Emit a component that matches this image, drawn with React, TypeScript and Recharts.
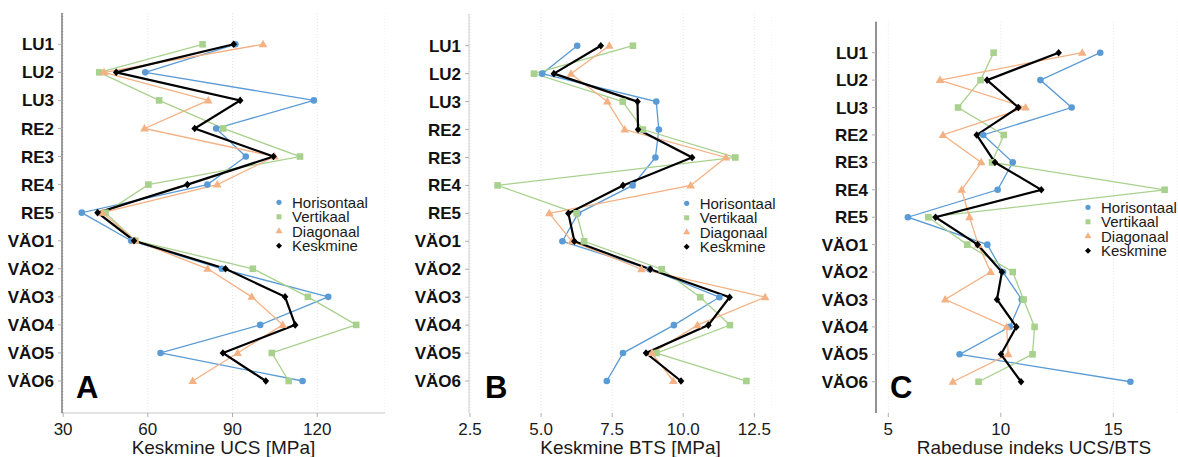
import React from 'react';
import { LineChart, Line, XAxis, YAxis, CartesianGrid } from 'recharts';

const categories = ['LU1', 'LU2', 'LU3', 'RE2', 'RE3', 'RE4', 'RE5', 'VÄO1', 'VÄO2', 'VÄO3', 'VÄO4', 'VÄO5', 'VÄO6'];
const seriesNames = ['Horisontaal', 'Vertikaal', 'Diagonaal', 'Keskmine'];

// A: Keskmine UCS [MPa]
const ucsHorisontaal = [91, 59.1, 118.8, 84.2, 94.7, 81.1, 36.6, 54.1, 86.2, 123.9, 99.8, 64.5, 114.8];
const ucsVertikaal = [79.4, 42.8, 64.0, 86.7, 113.9, 60.2, 45, 55.6, 97.2, 116.7, 133.8, 103.9, 109.9];
const ucsDiagonaal = [100.8, 44.5, 81.4, 58.8, 104.9, 84.6, 43.9, 55.6, 81.2, 96.8, 107.8, 91.8, 75.9];
const ucsKeskmine = [90.4, 48.8, 92.7, 76.6, 104.5, 74.0, 42.2, 55.1, 87.5, 108.6, 112.2, 86.6, 101.8];

// B: Keskmine BTS [MPa]
const btsHorisontaal = [6.27, 5.04, 9.05, 9.14, 9.02, 8.22, 6.3, 5.75, 8.82, 11.27, 9.67, 7.88, 7.31];
const btsVertikaal = [8.23, 4.75, 7.87, 8.58, 11.83, 3.47, 6.25, 6.51, 9.24, 10.6, 11.64, 9.06, 12.22];
const btsDiagonaal = [7.4, 6.05, 7.33, 7.94, 11.5, 10.26, 5.29, 6.08, 8.53, 12.88, 10.5, 8.9, 9.65];
const btsKeskmine = [7.1, 5.45, 8.39, 8.41, 10.31, 7.88, 5.96, 6.17, 8.84, 11.63, 10.88, 8.69, 9.92];

// C: Rabeduse indeks UCS/BTS
const riHorisontaal = [14.42, 11.76, 13.15, 9.22, 10.53, 9.86, 5.87, 9.4, 10.1, 10.93, 10.4, 8.17, 15.76];
const riVertikaal = [9.68, 9.1, 8.1, 10.13, 9.61, 17.28, 6.78, 8.51, 10.53, 11.01, 11.5, 11.41, 9.01];
const riDiagonaal = [13.62, 7.3, 11.1, 7.43, 9.13, 8.26, 8.61, 9.0, 9.55, 7.53, 10.26, 10.33, 7.87];
const riKeskmine = [12.57, 9.39, 10.78, 8.93, 9.74, 11.8, 7.1, 8.97, 10.05, 9.83, 10.69, 10.01, 10.9];

const ucsTicks = [30, 60, 90, 120];
const btsTicks = [2.5, 5, 7.5, 10, 12.5];
const riTicks = [5, 10, 15];

const BLUE = '#5b9bd5';
const GREEN = '#a9d18e';
const ORANGE = '#f4b183';
const BLACK = '#000000';
const FONT = '"Liberation Sans", Arial, sans-serif';

const catIdx = categories.map((_, i) => i);

const buildRows = (h: number[], v: number[], d: number[], k: number[]) =>
  categories.map((name, i) => ({ idx: i, name, h: h[i], v: v[i], d: d[i], k: k[i] }));

const circle = (p: any) =>
  p.cx == null ? null : <circle key={`c${p.index}`} cx={p.cx} cy={p.cy} r={3.3} fill={BLUE} />;
const square = (p: any) =>
  p.cx == null ? null : <rect key={`s${p.index}`} x={p.cx - 3.3} y={p.cy - 3.3} width={6.6} height={6.6} fill={GREEN} />;
const triangle = (p: any) =>
  p.cx == null ? null : (
    <path key={`t${p.index}`} d={`M${p.cx},${p.cy - 4.5}L${p.cx + 4.3},${p.cy + 3}L${p.cx - 4.3},${p.cy + 3}Z`} fill={ORANGE} />
  );
const diamond = (p: any) =>
  p.cx == null ? null : (
    <path key={`k${p.index}`} d={`M${p.cx},${p.cy - 3.8}L${p.cx + 3.3},${p.cy}L${p.cx},${p.cy + 3.8}L${p.cx - 3.3},${p.cy}Z`} fill={BLACK} />
  );

// legend drawn in the overlay, x = marker centre, y = first row centre
const LegendBox = ({ x, y }: { x: number; y: number }) => (
  <g transform={`translate(${x - 4},${y - 7})`}>
    <circle cx={4} cy={7} r={2.6} fill={BLUE} />
    <rect x={1.5} y={19} width={5} height={5} fill={GREEN} />
    <path d="M4,32L7.5,38L0.5,38Z" fill={ORANGE} />
    <path d="M4,47.5L7,50.5L4,53.5L1,50.5Z" fill={BLACK} />
    {seriesNames.map((s, i) => (
      <text key={s} x={17} y={7 + i * 14.5} dy="0.36em" fontSize={15} fontFamily={FONT} fill="#1a1a1a">
        {s}
      </text>
    ))}
  </g>
);

type PanelProps = {
  left: number;
  width: number;
  axisWidth: number;
  top: number;
  yDomain: [number, number];
  xDomain: [number, number];
  xTicks: number[];
  xFormat: (v: number) => string;
  title: string;
  titleDx: number;
  xLine: boolean;
  yColor: string;
  h: number[];
  v: number[];
  d: number[];
  k: number[];
};

const Panel = (p: PanelProps) => (
  <div style={{ position: 'absolute', left: p.left, top: 0 }}>
    <LineChart
      width={p.width}
      height={457}
      layout="vertical"
      data={buildRows(p.h, p.v, p.d, p.k)}
      margin={{ top: p.top, right: 0, bottom: 0, left: 0 }}
    >
      <CartesianGrid horizontal={false} stroke="#e4e4e4" strokeDasharray="1 2" />
      <XAxis
        type="number"
        domain={p.xDomain}
        allowDataOverflow
        ticks={p.xTicks}
        tickFormatter={p.xFormat}
        height={44}
        axisLine={p.xLine ? { stroke: '#c8c8c8' } : false}
        tickLine={{ stroke: '#b0b0b0' }}
        tickSize={4}
        tickMargin={6}
        tick={{ fontSize: 17, fill: '#1a1a1a', fontFamily: FONT }}
        label={{ value: p.title, position: 'insideBottom', offset: 3, dx: p.titleDx, fontSize: 19, fill: '#1a1a1a', fontFamily: FONT }}
      />
      <YAxis
        type="number"
        dataKey="idx"
        domain={p.yDomain}
        allowDataOverflow
        ticks={catIdx}
        interval={0}
        tickFormatter={(i: number) => categories[i] ?? ''}
        width={p.axisWidth}
        axisLine={{ stroke: p.yColor }}
        tickLine={{ stroke: '#b0b0b0' }}
        tickSize={4}
        tickMargin={4}
        tick={{ fontSize: 17, fontWeight: 'bold', fill: '#111', fontFamily: FONT }}
      />
      <Line dataKey="h" stroke={BLUE} strokeWidth={1.3} dot={circle} isAnimationActive={false} />
      <Line dataKey="v" stroke={GREEN} strokeWidth={1.3} dot={square} isAnimationActive={false} />
      <Line dataKey="d" stroke={ORANGE} strokeWidth={1.3} dot={triangle} isAnimationActive={false} />
      <Line dataKey="k" stroke={BLACK} strokeWidth={2.2} dot={diamond} isAnimationActive={false} />
    </LineChart>
  </div>
);

export default function App() {
  return (
    <div style={{ position: 'absolute', left: 0, top: 0, width: 1178, height: 457, background: '#fff', overflow: 'hidden' }}>
      <Panel
        left={0}
        width={385}
        axisWidth={62}
        top={13}
        yDomain={[-1.115, 13.14]}
        xDomain={[29.6, 144]}
        xTicks={ucsTicks}
        xFormat={(v) => String(v)}
        title="Keskmine UCS [MPa]"
        titleDx={0}
        xLine
        yColor="#3c3c3c"
        h={ucsHorisontaal}
        v={ucsVertikaal}
        d={ucsDiagonaal}
        k={ucsKeskmine}
      />
      <Panel
        left={390}
        width={382}
        axisWidth={79}
        top={14}
        yDomain={[-1.135, 13.145]}
        xDomain={[2.465, 13.12]}
        xTicks={btsTicks}
        xFormat={(v) => v.toFixed(1)}
        title="Keskmine BTS [MPa]"
        titleDx={10}
        xLine={false}
        yColor="#cfcfcf"
        h={btsHorisontaal}
        v={btsVertikaal}
        d={btsDiagonaal}
        k={btsKeskmine}
      />
      <Panel
        left={785}
        width={393}
        axisWidth={91}
        top={21.7}
        yDomain={[-1.13, 13.14]}
        xDomain={[4.453, 17.876]}
        xTicks={riTicks}
        xFormat={(v) => String(v)}
        title="Rabeduse indeks UCS/BTS"
        titleDx={7}
        xLine={false}
        yColor="#2a2a2a"
        h={riHorisontaal}
        v={riVertikaal}
        d={riDiagonaal}
        k={riKeskmine}
      />
      <svg width={1178} height={457} style={{ position: 'absolute', left: 0, top: 0, pointerEvents: 'none' }}>
        <g fontFamily={FONT} fontWeight="bold" fontSize={31} fill="#000">
          <text x={76} y={398}>A</text>
          <text x={485} y={398}>B</text>
          <text x={890} y={398}>C</text>
        </g>
        <LegendBox x={279} y={202.3} />
        <LegendBox x={686.7} y={203.3} />
        <LegendBox x={1088} y={207.3} />
      </svg>
    </div>
  );
}
